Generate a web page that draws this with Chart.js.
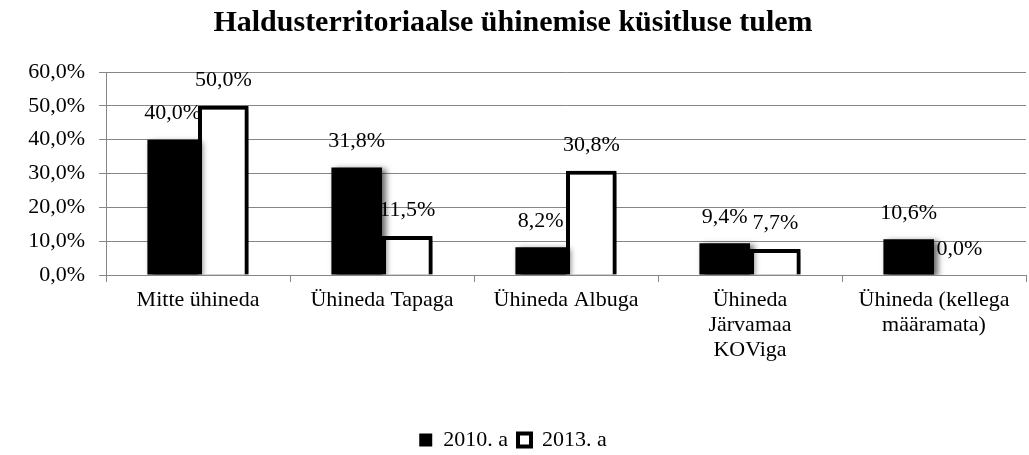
<!DOCTYPE html>
<html>
<head>
<meta charset="utf-8">
<script src="https://cdn.jsdelivr.net/npm/chart.js@4"></script>
<style>
  html, body { margin: 0; padding: 0; background: #fff; }
  #wrap { width: 1029px; height: 455px; }
</style>
</head>
<body>
<div id="wrap"><canvas id="chart"></canvas></div>
<script>
// Küsitluse andmed
var categories = ["Mitte ühineda", "Ühineda Tapaga", "Ühineda Albuga", ["Ühineda", "Järvamaa", "KOViga"], ["Ühineda (kellega", "määramata)"]];
var seriesNames = ["2010. a", "2013. a"];
var values2010 = [40.0, 31.8, 8.2, 9.4, 10.6];
var values2013 = [50.0, 11.5, 30.8, 7.7, 0.0];
var yTicks = [0, 10, 20, 30, 40, 50, 60];

function pct(v) {
    return v.toFixed(1).replace(".", ",") + "%";
}

// varjud tulpadele
var shadowPlugin = {
    id: "shadow",
    beforeDatasetDraw: function(chart) {
        var ctx = chart.ctx;
        ctx.save();
        ctx.shadowColor = "rgba(0,0,0,0.6)";
        ctx.shadowBlur = 6;
        ctx.shadowOffsetX = 4;
        ctx.shadowOffsetY = 2;
    },
    afterDatasetDraw: function(chart) {
        chart.ctx.restore();
    }
};

// väärtused tulpade kohal
var labelPlugin = {
    id: "valueLabels",
    afterDatasetsDraw: function(chart) {
        var ctx = chart.ctx;
        ctx.save();
        ctx.font = "22px 'Liberation Serif'";
        ctx.fillStyle = "#000";
        ctx.textAlign = "center";
        ctx.textBaseline = "middle";
        chart.data.datasets.forEach(function(ds, i) {
            chart.getDatasetMeta(i).data.forEach(function(bar, j) {
                ctx.fillText(pct(ds.data[j]), bar.x, bar.y - 26);
            });
        });
        ctx.restore();
    }
};

new Chart("chart", {
    type: "bar",
    data: {
        labels: categories,
        datasets: [{
            label: seriesNames[0],
            data: values2010,
            backgroundColor: "#000",
            borderColor: "#000",
            borderWidth: 0,
            categoryPercentage: 0.55,
            barPercentage: 1
        }, {
            label: seriesNames[1],
            data: values2013,
            backgroundColor: "#fff",
            borderColor: "#000",
            borderWidth: 4,
            categoryPercentage: 0.55,
            barPercentage: 1
        }]
    },
    options: {
        responsive: true,
        maintainAspectRatio: false,
        animation: false,
        layout: { padding: { left: 0, right: 3, top: 5, bottom: -6 } },
        plugins: {
            title: {
                display: true,
                text: "Haldusterritoriaalse ühinemise küsitluse tulem",
                color: "#000",
                font: { family: "'Liberation Serif'", size: 30, weight: "bold" },
                padding: { top: 0, bottom: 31 }
            },
            legend: {
                position: "bottom",
                labels: {
                    color: "#000",
                    font: { family: "'Liberation Serif'", size: 22 },
                    boxWidth: 13,
                    boxHeight: 13,
                    padding: 10
                }
            },
            tooltip: { enabled: false }
        },
        scales: {
            x: {
                grid: { display: true, drawOnChartArea: false, offset: true, color: "#868686", tickLength: 7 },
                border: { color: "#868686" },
                ticks: {
                    color: "#000",
                    font: { family: "'Liberation Serif'", size: 22, lineHeight: 1.13 },
                    maxRotation: 0,
                    autoSkip: false,
                    padding: 6
                },
                afterFit: function(scale) { scale.height = 144; }
            },
            y: {
                min: yTicks[0],
                max: yTicks[yTicks.length - 1],
                afterBuildTicks: function(scale) {
                    scale.ticks = yTicks.map(function(v) { return { value: v }; });
                },
                grid: { color: "#868686", tickLength: 7 },
                border: { color: "#868686" },
                ticks: {
                    color: "#000",
                    font: { family: "'Liberation Serif'", size: 22 },
                    padding: 14,
                    callback: function(v) { return pct(v); }
                },
                afterFit: function(scale) { scale.width = 106; }
            }
        }
    },
    plugins: [shadowPlugin, labelPlugin]
});
</script>
</body>
</html>
